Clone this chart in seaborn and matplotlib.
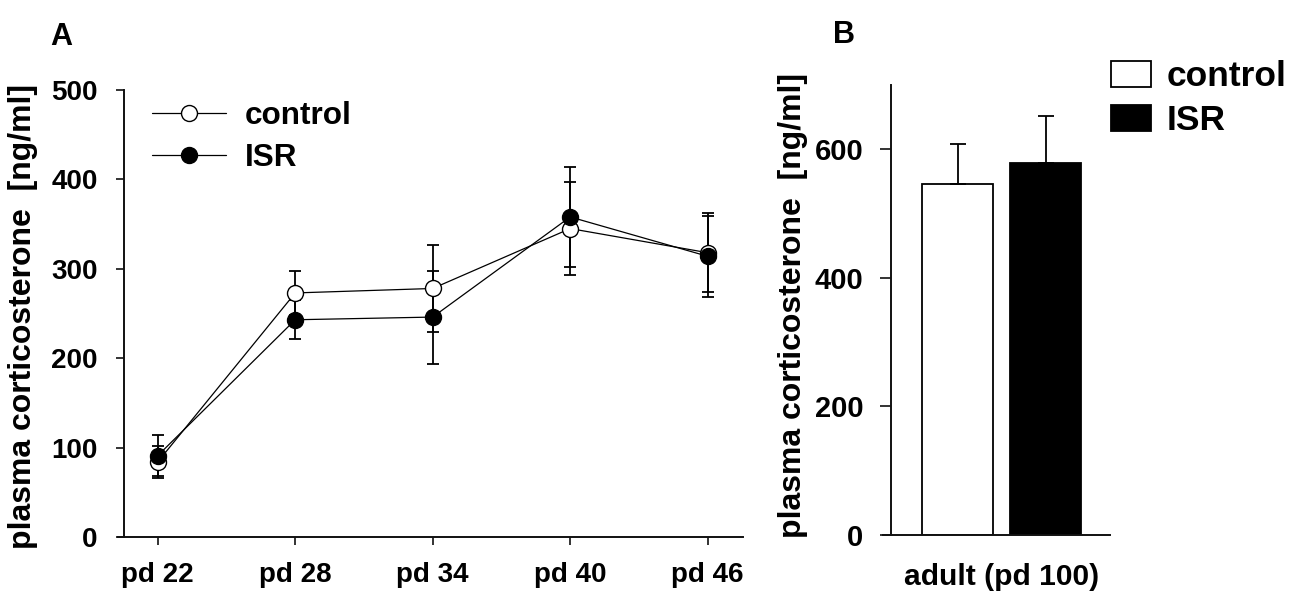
import numpy as np
import pandas as pd
import matplotlib
matplotlib.use("Agg")
import matplotlib.pyplot as plt
import seaborn as sns

# ---------------- data ----------------
timepoints = ["pd 22", "pd 28", "pd 34", "pd 40", "pd 46"]
control_mean = [84, 273, 278, 345, 318]
control_sem = [18, 25, 49, 52, 44]
isr_mean = [91, 243, 246, 358, 314]
isr_sem = [23, 22, 52, 56, 45]

adult_stage = ["adult (pd 100)"]
adult_groups = ["control", "ISR"]
adult_mean = [546, 578]
adult_sem = [62, 74]

ylabel = "plasma corticosterone  [ng/ml]"

# ---------------- style ----------------
sns.set_theme(style="ticks")
plt.rcParams["font.family"] = ["Liberation Sans", "DejaVu Sans"]
plt.rcParams["font.weight"] = "bold"
plt.rcParams["axes.labelweight"] = "bold"
plt.rcParams["axes.linewidth"] = 1.4
plt.rcParams["axes.edgecolor"] = "#111111"
plt.rcParams["text.color"] = "black"
plt.rcParams["axes.labelcolor"] = "black"
plt.rcParams["xtick.color"] = "black"
plt.rcParams["ytick.color"] = "black"
plt.rcParams["xtick.labelcolor"] = "black"
plt.rcParams["ytick.labelcolor"] = "black"

W, H = 1300, 599
fig = plt.figure(figsize=(W / 100, H / 100), dpi=100)
axA = fig.add_axes([118 / W, 1 - 537 / H, (743 - 118) / W, (537 - 90) / H])
axB = fig.add_axes([883 / W, 1 - 535 / H, (1110 - 883) / W, (535 - 85) / H])

# ---------------- panel A ----------------
n = len(timepoints)
dfA = pd.DataFrame({
    "pos": list(range(n)) * 2,
    "value": control_mean + isr_mean,
    "err": control_sem + isr_sem,
    "group": ["control"] * n + ["ISR"] * n,
})
faces = {"control": "white", "ISR": "black"}

for grp in ["control", "ISR"]:
    sub = dfA[dfA.group == grp]
    axA.errorbar(sub.pos, sub.value, yerr=sub.err, fmt="none", ecolor="black",
                 elinewidth=1.3, capsize=4.3, capthick=1.3, zorder=2)
for grp in ["control", "ISR"]:
    sub = dfA[dfA.group == grp]
    sns.lineplot(data=sub, x="pos", y="value", ax=axA, color="black", lw=0.9,
                 marker="o", markersize=11.5, markerfacecolor=faces[grp],
                 markeredgecolor="black", markeredgewidth=1.0, label=grp,
                 errorbar=None, zorder=3)

axA.set_xlim(-0.289, 4.257)
axA.set_ylim(0, 500)
axA.set_xticks(range(n))
axA.set_xticklabels(timepoints)
axA.set_yticks([0, 100, 200, 300, 400, 500])
sns.despine(ax=axA)
axA.spines["left"].set_position(("data", -0.245))
axA.tick_params(axis="both", direction="out", length=6, width=1.2, color="#111111",
                labelsize=20, labelcolor="black")
axA.tick_params(axis="y", pad=13)
axA.tick_params(axis="x", pad=12)
axA.set_xlabel("")
axA.set_ylabel(ylabel, fontsize=23, fontweight="bold", color="black")
axA.yaxis.set_label_coords(-0.128, 0.493)
for t in axA.get_xticklabels() + axA.get_yticklabels():
    t.set_fontweight("bold")

axA.legend(loc="upper left", bbox_to_anchor=(152 / W, 1 - 101 / H),
           bbox_transform=fig.transFigure, frameon=False, fontsize=22.7,
           handlelength=2.35, handletextpad=0.6, borderpad=0, borderaxespad=0,
           labelspacing=0.38)

# ---------------- panel B ----------------
dfB = pd.DataFrame({
    "stage": adult_stage * len(adult_groups),
    "group": adult_groups,
    "value": adult_mean,
})
sns.barplot(data=dfB, x="stage", y="value", hue="group", hue_order=adult_groups,
            palette={"control": "white", "ISR": "black"}, edgecolor="black",
            linewidth=1.3, width=0.8, gap=0.2, errorbar=None, ax=axB)

for cont, e in zip(axB.containers, adult_sem):
    for p in cont:
        xc = p.get_x() + p.get_width() / 2
        axB.errorbar([xc], [p.get_height()], yerr=[[0], [e]], fmt="none",
                     ecolor="black", elinewidth=1.3, capsize=6, capthick=1.3,
                     zorder=4)

axB.set_xlim(-0.539, 0.493)
axB.set_ylim(0, 700)
axB.set_yticks([0, 200, 400, 600])
sns.despine(ax=axB)
axB.spines["left"].set_position(("data", -0.502))
axB.tick_params(axis="y", direction="out", length=8, width=1.2, color="#111111",
                labelsize=21, pad=12, labelcolor="black")
axB.tick_params(axis="x", length=0, labelsize=21.6, pad=20, labelcolor="black")
axB.set_xlabel("")
axB.set_ylabel(ylabel, fontsize=23, fontweight="bold", color="black")
axB.yaxis.set_label_coords(-0.330, 0.51)
for t in axB.get_xticklabels() + axB.get_yticklabels():
    t.set_fontweight("bold")

handles, labels = axB.get_legend_handles_labels()
axB.legend(handles, labels, loc="upper left", bbox_to_anchor=(1111 / W, 1 - 60 / H),
           bbox_transform=fig.transFigure, frameon=False, fontsize=25.5,
           handlelength=1.13, handleheight=0.76, handletextpad=0.45,
           borderpad=0, borderaxespad=0, labelspacing=0.32)

# ---------------- panel letters ----------------
fig.text(61 / W, 1 - 37 / H, "A", ha="center", va="center", fontsize=22, fontweight="bold")
fig.text(844 / W, 1 - 35 / H, "B", ha="center", va="center", fontsize=22, fontweight="bold")

fig.savefig("out.png", dpi=100, facecolor="white")
